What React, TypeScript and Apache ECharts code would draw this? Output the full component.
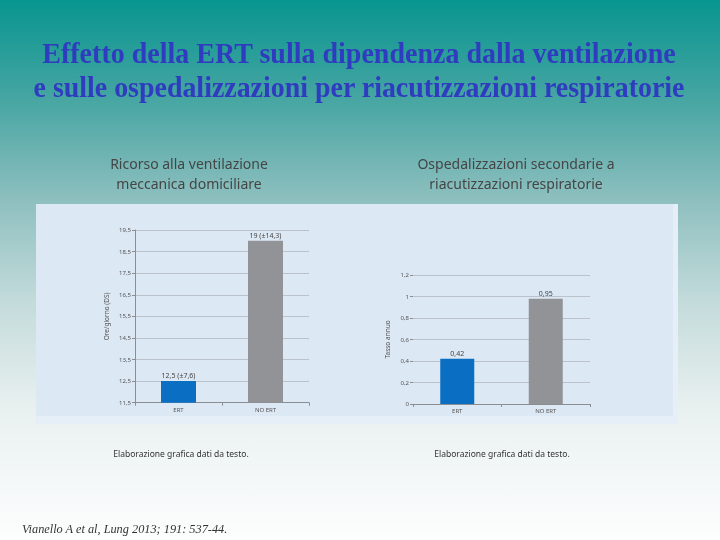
import React, { useEffect, useRef } from "react";
import * as echarts from "echarts";

const titleLines = [
  "Effetto della ERT sulla dipendenza dalla ventilazione",
  "e sulle ospedalizzazioni per riacutizzazioni respiratorie",
];
const leftSubtitle = ["Ricorso alla ventilazione", "meccanica domiciliare"];
const rightSubtitle = ["Ospedalizzazioni secondarie a", "riacutizzazioni respiratorie"];
const footnote = "Elaborazione grafica dati da testo.";
const citation = "Vianello A et al, Lung 2013; 191: 537-44.";

const categories = ["ERT", "NO ERT"];
const hoursPerDay = [12.5, 19];
const hoursSD = [7.6, 14.3];
const annualRate = [0.42, 0.98];
const annualRateLabels = ["0,42", "0,95"];
const barColors = ["#0a6fc2", "#929396"];

const comma = (v: number) => String(v).replace(".", ",");

function measure(text: string, font: string): number {
  const c = document.createElement("canvas").getContext("2d");
  if (!c) return 600;
  c.font = font;
  return c.measureText(text).width;
}

export default function App() {
  const ref = useRef<HTMLDivElement>(null);
  useEffect(() => {
    if (!ref.current) return;
    const chart = echarts.init(ref.current, null, { renderer: "svg" });
    const titleFont = 'bold 30px "Liberation Serif"';
    const targets = [
      { cx: 359, cy: 53, w: 634 },
      { cx: 359, cy: 87, w: 652 },
    ];
    const titleEls = titleLines.map((t, i) => {
      const mw = measure(t, titleFont);
      return {
        type: "text",
        x: targets[i].cx,
        y: targets[i].cy,
        scaleX: targets[i].w / mw,
        z: 10,
        style: {
          text: t,
          x: 0,
          y: 0,
          align: "center",
          verticalAlign: "middle",
          font: titleFont,
          fill: "#2f3cbf",
        },
      };
    });
    const subEl = (lines: string[], cx: number) =>
      lines.map((t, i) => ({
        type: "text",
        z: 10,
        style: {
          text: t,
          x: cx,
          y: 163 + i * 20,
          align: "center",
          verticalAlign: "middle",
          fontFamily: "Noto Sans",
          fontSize: 14,
          fill: "#454545",
        },
      }));
    const axisCommon = {
      axisLabel: { fontSize: 6, color: "#555", fontFamily: "Noto Sans", margin: 4 },
      axisLine: { show: true, lineStyle: { color: "#8a8d92", width: 1 } },
      axisTick: { show: true, length: 3, lineStyle: { color: "#8a8d92" } },
    };
    const barLabel = {
      show: true,
      position: "top",
      distance: 2,
      fontSize: 7,
      color: "#444",
      fontFamily: "Noto Sans",
    };
    const footEl = (cx: number) => ({
      type: "text",
      z: 10,
      style: {
        text: footnote,
        x: cx,
        y: 453,
        align: "center",
        verticalAlign: "middle",
        fontFamily: "Noto Sans",
        fontSize: 8.5,
        fill: "#333",
      },
    });
    chart.setOption({
      animation: false,
      graphic: [
        {
          type: "rect",
          z: -100,
          shape: { x: 0, y: 0, width: 720, height: 540 },
          style: {
            fill: new echarts.graphic.LinearGradient(0, 0, 0, 1, [
              { offset: 0, color: "#089590" },
              { offset: 0.18, color: "#45a5a2" },
              { offset: 0.37, color: "#8ebfbf" },
              { offset: 0.56, color: "#c4dbdb" },
              { offset: 0.76, color: "#e9f1f0" },
              { offset: 1, color: "#fdfefe" },
            ]),
          },
        },
        {
          type: "rect",
          z: -90,
          shape: { x: 36, y: 204, width: 642, height: 220 },
          style: { fill: "#e6eef7" },
        },
        {
          type: "rect",
          z: -89,
          shape: { x: 36, y: 204, width: 637, height: 212 },
          style: { fill: "#dde8f5" },
        },
        ...titleEls,
        ...subEl(leftSubtitle, 189),
        ...subEl(rightSubtitle, 516),
        footEl(181),
        footEl(502),
        {
          type: "text",
          z: 10,
          style: {
            text: citation,
            x: 22,
            y: 529,
            align: "left",
            verticalAlign: "middle",
            font: 'italic 12.3px "Liberation Serif"',
            fill: "#333",
          },
        },
      ],
      grid: [
        { left: 135, top: 230, width: 174, height: 172.7 },
        { left: 413, top: 275, width: 177, height: 129 },
      ],
      xAxis: [
        { type: "category", gridIndex: 0, data: categories, ...axisCommon },
        { type: "category", gridIndex: 1, data: categories, ...axisCommon },
      ],
      yAxis: [
        {
          type: "value",
          gridIndex: 0,
          min: 11.5,
          max: 19.5,
          interval: 1,
          name: "Ore/giorno (DS)",
          nameLocation: "middle",
          nameRotate: 90,
          nameGap: 25,
          nameTextStyle: { fontSize: 6.5, color: "#555", fontFamily: "Noto Sans" },
          ...axisCommon,
          axisLabel: { ...axisCommon.axisLabel, formatter: (v: number) => comma(v) },
          splitLine: { show: true, lineStyle: { color: "#b3b8c0", width: 0.8 } },
        },
        {
          type: "value",
          gridIndex: 1,
          min: 0,
          max: 1.2,
          interval: 0.2,
          name: "Tasso annuo",
          nameLocation: "middle",
          nameRotate: 90,
          nameGap: 22,
          nameTextStyle: { fontSize: 6.5, color: "#555", fontFamily: "Noto Sans" },
          ...axisCommon,
          axisLine: { show: false },
          axisLabel: {
            ...axisCommon.axisLabel,
            formatter: (v: number) => comma(Math.round(v * 10) / 10),
          },
          splitLine: { show: true, lineStyle: { color: "#b3b8c0", width: 0.8 } },
        },
      ],
      series: [
        {
          type: "bar",
          xAxisIndex: 0,
          yAxisIndex: 0,
          barWidth: 35,
          data: hoursPerDay.map((v, i) => ({
            value: v,
            itemStyle: { color: barColors[i] },
            label: { ...barLabel, formatter: `${comma(v)} (±${comma(hoursSD[i])})` },
          })),
        },
        {
          type: "bar",
          xAxisIndex: 1,
          yAxisIndex: 1,
          barWidth: 34,
          data: annualRate.map((v, i) => ({
            value: v,
            itemStyle: { color: barColors[i] },
            label: { ...barLabel, formatter: annualRateLabels[i] },
          })),
        },
      ],
    });
    return () => chart.dispose();
  }, []);
  return (
    <div
      ref={ref}
      style={{ position: "fixed", left: 0, top: 0, width: 720, height: 540 }}
    />
  );
}
